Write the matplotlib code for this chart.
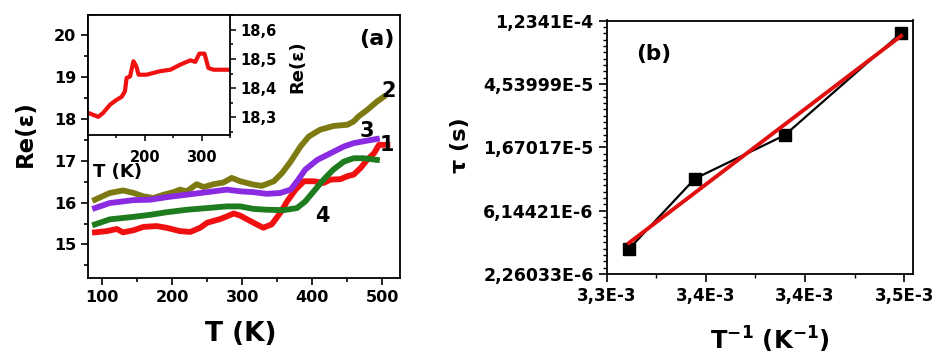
import numpy as np
import matplotlib
matplotlib.use("Agg")
import matplotlib.pyplot as plt
from matplotlib.ticker import FixedLocator, FixedFormatter, MultipleLocator, NullFormatter

plt.rcParams["font.family"] = ["DejaVu Sans"]
plt.rcParams["font.weight"] = "bold"
plt.rcParams["axes.labelweight"] = "bold"
plt.rcParams["mathtext.fontset"] = "dejavusans"

# ---- panel (a): Re(eps) vs T, four curves ----
t1 = [90, 107, 121, 130, 145, 159, 178, 192, 211, 226, 240, 250, 269, 288, 297, 316,
      330, 342, 354, 364, 376, 388, 402, 416, 426, 440, 450, 459, 469, 478, 488, 495, 507]
re1 = [15.29, 15.32, 15.37, 15.29, 15.34, 15.42, 15.44, 15.40, 15.32, 15.30, 15.40, 15.52,
       15.61, 15.74, 15.69, 15.52, 15.40, 15.48, 15.75, 16.03, 16.31, 16.51, 16.51, 16.47,
       16.55, 16.56, 16.63, 16.67, 16.83, 17.02, 17.18, 17.38, 17.38]

t2 = [90, 111, 130, 145, 159, 173, 188, 202, 211, 221, 235, 245, 259, 273, 285, 297, 316,
      328, 345, 357, 369, 383, 395, 411, 430, 450, 459, 466, 478, 492, 502]
re2 = [16.07, 16.23, 16.29, 16.23, 16.15, 16.11, 16.19, 16.25, 16.31, 16.27, 16.44, 16.37,
       16.44, 16.48, 16.59, 16.51, 16.43, 16.40, 16.51, 16.71, 16.98, 17.34, 17.58, 17.74,
       17.83, 17.86, 17.94, 18.06, 18.21, 18.41, 18.53]

t3 = [90, 111, 145, 169, 192, 221, 250, 278, 297, 316, 335, 354, 369, 380, 390, 407, 426,
      445, 459, 478, 492]
re3 = [15.87, 15.99, 16.06, 16.07, 16.13, 16.19, 16.25, 16.31, 16.27, 16.25, 16.21, 16.23,
       16.31, 16.55, 16.79, 17.02, 17.18, 17.34, 17.42, 17.48, 17.52]

t4 = [90, 111, 145, 169, 192, 221, 250, 278, 297, 316, 335, 359, 378, 390, 402, 416, 430,
      445, 459, 473, 492]
re4 = [15.48, 15.60, 15.66, 15.71, 15.77, 15.83, 15.87, 15.91, 15.91, 15.85, 15.83, 15.82,
       15.87, 16.03, 16.27, 16.55, 16.79, 16.98, 17.06, 17.06, 17.02]

# inset curve
t_ins = [100, 118, 127, 139, 151, 159, 165, 168, 174, 180, 185, 189, 203, 227, 245, 262,
         280, 289, 296, 305, 312, 321, 348]
re_ins = [18.316, 18.302, 18.316, 18.344, 18.361, 18.370, 18.389, 18.435, 18.440, 18.492,
          18.475, 18.446, 18.446, 18.458, 18.463, 18.480, 18.495, 18.490, 18.518, 18.518,
          18.469, 18.463, 18.463]

curve_names = ["1", "2", "3", "4"]
curve_colors = ["#f01010", "#7d7a12", "#8a2be2", "#1e7b1e"]
name_pos_t = [507, 509, 477, 414]
name_pos_re = [17.38, 18.67, 17.72, 15.67]

# ---- panel (b): tau vs 1/T ----
inv_t = [3.3112e-3, 3.3445e-3, 3.3898e-3, 3.4485e-3]
tau = [3.35e-6, 1.018e-5, 2.02e-5, 1.01e-4]
tau_ticks = [2.26033e-6, 6.14421e-6, 1.67017e-5, 4.53999e-5, 1.2341e-4]
tau_labels = ["2,26033E-6", "6,14421E-6", "1,67017E-5", "4,53999E-5", "1,2341E-4"]
inv_ticks = [3.30e-3, 3.35e-3, 3.40e-3, 3.45e-3]
inv_labels = ["3,3E-3", "3,4E-3", "3,4E-3", "3,5E-3"]

W, H = 937, 364
fig = plt.figure(figsize=(W / 100, H / 100), dpi=100)


def box(l, r, t, b):
    return [l / W, (H - b) / H, (r - l) / W, (b - t) / H]


ax = fig.add_axes(box(88, 400, 15, 278))
for t, r, c in zip([t1, t2, t3, t4], [re1, re2, re3, re4], curve_colors):
    ax.plot(t, r, color=c, lw=4.2, solid_joinstyle="round")
ax.set_xlim(80, 525)
ax.set_ylim(14.2, 20.48)
ax.xaxis.set_major_locator(MultipleLocator(100))
ax.xaxis.set_minor_locator(MultipleLocator(50))
ax.yaxis.set_major_locator(MultipleLocator(1))
ax.yaxis.set_minor_locator(MultipleLocator(0.5))
ax.tick_params(which="major", direction="out", length=5, width=1.2, labelsize=11.5)
ax.tick_params(which="minor", direction="out", length=3, width=1.2)
for s in ax.spines.values():
    s.set_linewidth(1.3)
ax.set_xlabel("T (K)", fontsize=19)
ax.xaxis.set_label_coords(0.49, -0.165)
ax.set_ylabel("Re(ε)", fontsize=16.5)
ax.yaxis.set_label_coords(-0.165, 0.55)
for n, x, y in zip(curve_names, name_pos_t, name_pos_re):
    ax.text(x, y, n, fontsize=15, fontweight="bold", ha="center", va="center")
ax.text(0.926, 0.909, "(a)", transform=ax.transAxes, fontsize=16, fontweight="bold",
        ha="center", va="center")

ins = fig.add_axes(box(88, 230, 15, 135))
ins.plot(t_ins, re_ins, color="#f01010", lw=3)
ins.set_xlim(100, 350)
ins.set_ylim(18.24, 18.65)
ins.xaxis.set_major_locator(FixedLocator([200, 300]))
ins.xaxis.set_minor_locator(FixedLocator([150, 250, 350]))
ins.yaxis.set_major_locator(MultipleLocator(0.1))
ins.yaxis.set_minor_locator(MultipleLocator(0.05))
ins.yaxis.set_major_formatter(plt.FuncFormatter(lambda v, p: f"{v:.1f}".replace(".", ",")))
ins.yaxis.tick_right()
ins.yaxis.set_label_position("right")
ins.tick_params(which="major", direction="out", length=4, width=1.1, labelsize=10.5)
ins.tick_params(which="minor", direction="out", length=2.5, width=1.1)
ins.tick_params(axis="x", pad=7)
for s in ins.spines.values():
    s.set_linewidth(1.3)
ins.set_ylabel("Re(ε)", fontsize=13)
ins.yaxis.set_label_coords(1.41, 0.567)
ins.set_xlabel("T (K)", fontsize=13)
ins.xaxis.set_label_coords(0.21, -0.23)

# ---- panel (b) ----
bx = fig.add_axes(box(606.7, 913, 20.5, 274))
bx.set_yscale("log", base=np.e)
fit = np.polyfit(inv_t, np.log(tau), 1)
xf = np.array([inv_t[0], inv_t[-1]])
bx.plot(inv_t, tau, color="black", lw=1.6, marker="s", ms=8.5, zorder=2)
bx.plot(xf, np.exp(np.polyval(fit, xf)), color="#e01010", lw=2.8, zorder=3)
bx.set_xlim(3.30e-3, 3.4545e-3)
bx.set_ylim(2.2603e-6, 1.23415e-4)
bx.yaxis.set_major_locator(FixedLocator(tau_ticks))
bx.yaxis.set_major_formatter(FixedFormatter(tau_labels))
minors = [np.exp(-13 + k * 0.1) for k in range(41) if k % 10 != 0]
bx.yaxis.set_minor_locator(FixedLocator(minors))
bx.yaxis.set_minor_formatter(NullFormatter())
bx.xaxis.set_major_locator(FixedLocator(inv_ticks))
bx.xaxis.set_major_formatter(FixedFormatter(inv_labels))
bx.xaxis.set_minor_locator(FixedLocator([3.325e-3, 3.375e-3, 3.425e-3]))
bx.tick_params(which="major", direction="out", length=6, width=1.2, labelsize=12.5)
bx.tick_params(axis="x", which="major", labelsize=12)
bx.tick_params(which="minor", direction="out", length=3, width=1.0)
for s in bx.spines.values():
    s.set_linewidth(1.3)
bx.set_ylabel("τ (s)", fontsize=16)
bx.yaxis.set_label_coords(-0.446, 0.51)
bx.set_xlabel(r"T$^{\mathbf{-1}}$ (K$^{\mathbf{-1}}$)", fontsize=17.5)
bx.xaxis.set_label_coords(0.533, -0.2)
bx.text(0.154, 0.868, "(b)", transform=bx.transAxes, fontsize=15.5, fontweight="bold",
        ha="center", va="center")

fig.savefig("out.png", dpi=100)
